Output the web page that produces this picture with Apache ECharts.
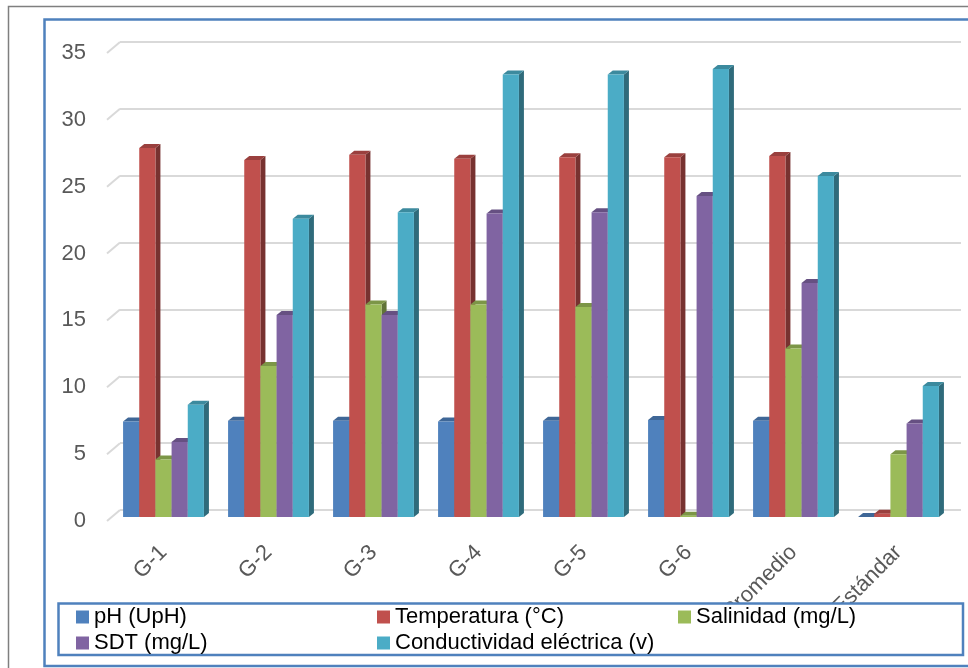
<!DOCTYPE html>
<html>
<head>
<meta charset="utf-8">
<script src="https://cdn.jsdelivr.net/npm/echarts@6.0.0/dist/echarts.min.js"></script>
<style>
  html, body { margin: 0; padding: 0; background: #ffffff; }
  #chart { width: 968px; height: 668px; }
</style>
</head>
<body>
<div id="chart"></div>
<script>
// Water quality parameters per sampling point
const categories = ['G-1', 'G-2', 'G-3', 'G-4', 'G-5', 'G-6', 'Promedio', 'Estándar'];
const seriesNames = ['pH (UpH)', 'Temperatura (°C)', 'Salinidad (mg/L)', 'SDT (mg/L)', 'Conductividad eléctrica (v)'];
const phValues    = [7.15, 7.2, 7.2, 7.15, 7.2, 7.25, 7.2, 0];
const tempValues  = [27.6, 26.7, 27.1, 26.8, 26.9, 26.9, 27.0, 0.25];
const salValues   = [4.3, 11.3, 15.9, 15.9, 15.7, 0.1, 12.6, 4.7];
const sdtValues   = [5.6, 15.1, 15.1, 22.7, 22.8, 24.0, 17.5, 7.0];
const condValues  = [8.4, 22.3, 22.8, 33.1, 33.1, 33.5, 25.5, 9.8];
const yTicks = [0, 5, 10, 15, 20, 25, 30, 35];

const allValues = [phValues, tempValues, salValues, sdtValues, condValues];
const colors = ['#4F81BD', '#C0504D', '#9BBB59', '#8064A2', '#4BACC6'];
const FONT = 'Liberation Sans';

function shade(hex, f) {
  const n = parseInt(hex.slice(1), 16);
  const r = Math.round(((n >> 16) & 255) * f);
  const g = Math.round(((n >> 8) & 255) * f);
  const b = Math.round((n & 255) * f);
  return 'rgb(' + r + ',' + g + ',' + b + ')';
}

// Share of each category band taken by the cluster of columns
const GROUP_FRAC = 0.77;
const DEPTH_X = 5, DEPTH_Y = 4;

// Extruded column: front face, top face and shaded side face
function columnRenderer(k, color) {
  const sideColor = shade(color, 0.62);
  const topColor = shade(color, 0.8);
  return function (params, api) {
    const cat = api.value(0);
    const val = api.value(1);
    const base = api.coord([cat, 0]);
    const tip = api.coord([cat, val]);
    const band = api.size([1, 0])[0];
    const groupW = band * GROUP_FRAC;
    const bw = groupW / seriesNames.length;
    const x0 = base[0] - groupW / 2 + k * bw;
    const x1 = x0 + bw;
    const yb = base[1], yt = tip[1];
    return {
      type: 'group',
      children: [
        { type: 'polygon',
          shape: { points: [[x1, yt], [x1 + DEPTH_X, yt - DEPTH_Y], [x1 + DEPTH_X, yb - DEPTH_Y], [x1, yb]] },
          style: { fill: sideColor } },
        { type: 'polygon',
          shape: { points: [[x0, yt], [x0 + DEPTH_X, yt - DEPTH_Y], [x1 + DEPTH_X, yt - DEPTH_Y], [x1, yt]] },
          style: { fill: topColor } },
        { type: 'rect',
          shape: { x: x0, y: yt, width: bw, height: yb - yt },
          style: { fill: color } }
      ]
    };
  };
}

const valueAxisBase = { type: 'value', min: 0, max: 35, interval: 5 };

const series = seriesNames.map(function (name, k) {
  return {
    name: name,
    type: 'custom',
    xAxisIndex: 0,
    yAxisIndex: 0,
    itemStyle: { color: colors[k] },
    renderItem: columnRenderer(k, colors[k]),
    encode: { x: 0, y: 1 },
    data: allValues[k].map(function (v, i) { return [i, v]; }),
    z: 3
  };
});

// Short slanted lead-ins joining the value labels to the back-wall gridlines
series.push({
  type: 'custom',
  xAxisIndex: 2,
  yAxisIndex: 2,
  silent: true,
  z: 1,
  renderItem: function (params, api) {
    const p = api.coord([0, api.value(1)]);
    return {
      type: 'line',
      shape: { x1: p[0], y1: p[1], x2: p[0] + 13, y2: p[1] - 11 },
      style: { stroke: '#d9d9d9', lineWidth: 2 }
    };
  },
  encode: { x: 0, y: 1 },
  data: yTicks.map(function (v) { return [0, v]; })
});

const legendCommon = {
  left: 76,
  width: 900,
  padding: 0,
  itemGap: 10,
  itemWidth: 13,
  itemHeight: 13,
  icon: 'rect',
  selectedMode: false,
  z: 60,
  textStyle: { fontFamily: FONT, fontSize: 22, color: '#000000', width: 273, lineHeight: 22 }
};

const option = {
  backgroundColor: '#ffffff',
  animation: false,
  grid: [
    { left: 111, right: 17, top: 49, bottom: 151 },   // columns
    { left: 120, right: 7, top: 42, bottom: 158 },    // back wall
    { left: 107, right: 7, top: 53, bottom: 147 }     // value labels
  ],
  xAxis: [
    { type: 'category', gridIndex: 0, data: categories,
      axisLine: { show: false }, axisTick: { show: false },
      splitLine: { show: false },
      axisLabel: { rotate: 45, margin: 32, color: '#595959', fontFamily: FONT, fontSize: 22, interval: 0 } },
    { type: 'category', gridIndex: 1, data: categories, show: false },
    { type: 'value', gridIndex: 2, min: 0, max: 1, show: false }
  ],
  yAxis: [
    Object.assign({ gridIndex: 0, show: false }, valueAxisBase),
    Object.assign({ gridIndex: 1,
      axisLine: { show: false }, axisTick: { show: false }, axisLabel: { show: false },
      splitLine: { show: true, lineStyle: { color: '#d9d9d9', width: 2 } } }, valueAxisBase),
    Object.assign({ gridIndex: 2,
      axisLine: { show: false }, axisTick: { show: false }, splitLine: { show: false },
      axisLabel: { margin: 21, color: '#595959', fontFamily: FONT, fontSize: 22 } }, valueAxisBase)
  ],
  legend: [
    Object.assign({ top: 606, data: seriesNames.slice(0, 3) }, legendCommon),
    Object.assign({ top: 632, data: seriesNames.slice(3) }, legendCommon)
  ],
  graphic: [
    { type: 'rect', z: 50, silent: true,
      shape: { x: 8.5, y: 6.5, width: 1000, height: 700 },
      style: { fill: null, stroke: '#7f7f7f', lineWidth: 1.5 } },
    { type: 'rect', z: 50, silent: true,
      shape: { x: 44.5, y: 19.5, width: 1000, height: 646.5 },
      style: { fill: null, stroke: '#4F81BD', lineWidth: 2.5 } },
    { type: 'rect', z: 50, silent: true,
      shape: { x: 58.5, y: 603.5, width: 904.5, height: 51.5 },
      style: { fill: '#ffffff', stroke: '#4F81BD', lineWidth: 2.5 } }
  ],
  series: series
};

const chart = echarts.init(document.getElementById('chart'), null, { renderer: 'canvas' });
chart.setOption(option);
</script>
</body>
</html>
